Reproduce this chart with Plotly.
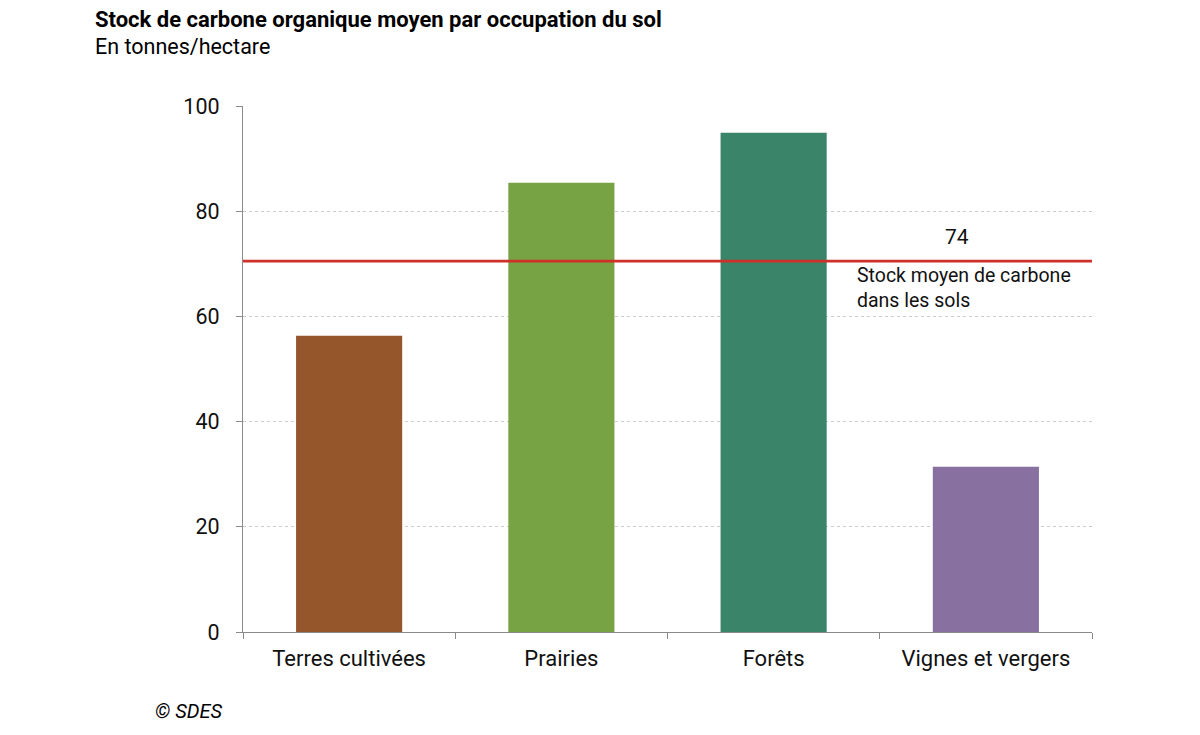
import plotly.graph_objects as go

# data (tonnes/hectare)
categories = ["Terres cultivées", "Prairies", "Forêts", "Vignes et vergers"]
stock_values = [56.3, 85.4, 94.9, 31.4]
bar_colors = ["#96562B", "#77A345", "#3A8469", "#8870A0"]
mean_stock = 70.5
mean_label = "74"
y_ticks = [0, 20, 40, 60, 80, 100]

FONT = "Roboto"

fig = go.Figure()

fig.add_trace(go.Bar(
    x=categories,
    y=stock_values,
    marker=dict(color=bar_colors, line=dict(width=0)),
    width=0.5,
    hoverinfo="x+y",
))

# average stock line across the whole plot
fig.add_shape(
    type="line", xref="paper", yref="y",
    x0=0, x1=1, y0=mean_stock, y1=mean_stock,
    line=dict(color="#D0302A", width=2.8),
)
fig.add_annotation(
    xref="paper", yref="y", x=0.857, y=mean_stock,
    text=mean_label, showarrow=False, yanchor="bottom", yshift=10,
    font=dict(family=FONT, size=21, color="#111111"),
)
fig.add_annotation(
    xref="paper", yref="y", x=0.721, y=mean_stock,
    text="Stock moyen de carbone<br>dans les sols", showarrow=False,
    xanchor="left", yanchor="top", align="left", yshift=-1,
    font=dict(family=FONT, size=19.5, color="#111111"),
)

# title, subtitle and source
fig.add_annotation(
    xref="paper", yref="paper", x=-0.1767, y=1.1635, xanchor="left", yanchor="middle",
    text="<b>Stock de carbone organique moyen par occupation du sol</b>",
    showarrow=False, font=dict(family=FONT, size=22, color="#000000"),
)
fig.add_annotation(
    xref="paper", yref="paper", x=-0.1767, y=1.114, xanchor="left", yanchor="middle",
    text="En tonnes/hectare", showarrow=False,
    font=dict(family=FONT, size=21.5, color="#000000"),
)
fig.add_annotation(
    xref="paper", yref="paper", x=-0.106, y=-0.150, xanchor="left", yanchor="middle",
    text="<i>© SDES</i>", showarrow=False,
    font=dict(family=FONT, size=20, color="#000000"),
)

fig.update_layout(
    width=1200, height=735,
    margin=dict(l=235, r=116, t=98, b=111),
    paper_bgcolor="white", plot_bgcolor="white",
    showlegend=False,
    font=dict(family=FONT, size=21, color="#111111"),
)
fig.update_xaxes(
    type="category",
    showline=True, linecolor="#8a8a8a", linewidth=1.2,
    ticks="outside", tickson="boundaries", ticklen=6, tickcolor="#8a8a8a",
    showgrid=False, ticklabelstandoff=6,
    tickfont=dict(family=FONT, size=22, color="#111111"),
)
fig.update_yaxes(
    range=[0, 100], tickvals=y_ticks,
    showline=True, linecolor="#8a8a8a", linewidth=1.2,
    ticks="outside", ticklen=6, tickcolor="#8a8a8a",
    showgrid=True, gridcolor="#cccccc", griddash="dot", gridwidth=1,
    zeroline=False, ticklabelstandoff=12,
    tickfont=dict(family=FONT, size=21.5, color="#111111"),
)

fig.write_html("out.html")
